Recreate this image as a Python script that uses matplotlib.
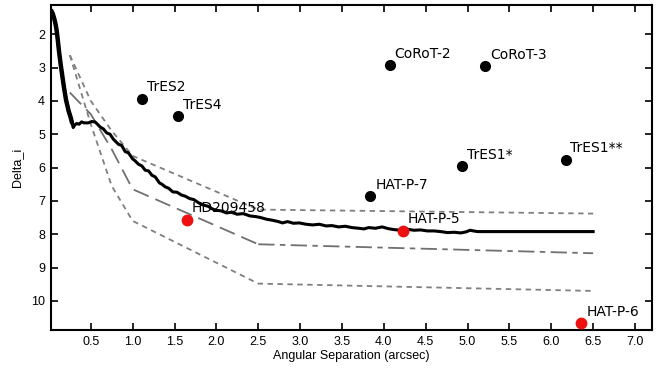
import matplotlib
matplotlib.use("Agg")
import matplotlib.pyplot as plt

# contrast curve (black)
sep_curve = [0.03, 0.045, 0.06, 0.075, 0.09, 0.105, 0.12, 0.14, 0.16, 0.18,
             0.205, 0.235, 0.26, 0.275, 0.29, 0.31, 0.33, 0.36, 0.39, 0.42,
             0.47, 0.51, 0.55, 0.58, 0.61, 0.65, 0.69, 0.73, 0.77, 0.79, 0.83,
             0.87, 0.91, 0.95, 1.0, 1.03, 1.07, 1.11, 1.15, 1.19, 1.23, 1.27,
             1.32, 1.35, 1.39, 1.43, 1.48, 1.53, 1.58, 1.63, 1.68, 1.73, 1.79,
             1.84, 1.9, 1.96, 2.0, 2.06, 2.12, 2.18, 2.25, 2.32, 2.4, 2.47,
             2.53, 2.6, 2.67, 2.74, 2.79, 2.85, 2.92, 2.99, 3.07, 3.15, 3.23,
             3.31, 3.38, 3.46, 3.54, 3.62, 3.7, 3.76, 3.82, 3.9, 3.98, 4.05,
             4.12, 4.2, 4.28, 4.36, 4.44, 4.52, 4.6, 4.68, 4.76, 4.84, 4.92,
             4.98, 5.03, 5.07, 5.12, 5.3, 5.6, 6.0, 6.3, 6.5]
dmag_curve = [1.3, 1.38, 1.5, 1.65, 1.85, 2.15, 2.5, 2.9, 3.25, 3.6,
              3.98, 4.3, 4.5, 4.65, 4.8, 4.72, 4.68, 4.7, 4.63, 4.66,
              4.66, 4.62, 4.63, 4.7, 4.78, 4.84, 4.96, 5.0, 5.15, 5.2, 5.3,
              5.34, 5.52, 5.56, 5.74, 5.8, 5.9, 5.95, 6.08, 6.1, 6.23, 6.28,
              6.46, 6.5, 6.58, 6.62, 6.73, 6.74, 6.82, 6.86, 6.93, 6.96, 7.06,
              7.12, 7.16, 7.25, 7.28, 7.3, 7.36, 7.34, 7.4, 7.38, 7.45, 7.47,
              7.5, 7.55, 7.58, 7.62, 7.66, 7.62, 7.67, 7.66, 7.7, 7.72, 7.7,
              7.75, 7.74, 7.78, 7.76, 7.8, 7.82, 7.84, 7.8, 7.82, 7.78, 7.83,
              7.86, 7.88, 7.85, 7.88, 7.87, 7.9, 7.9, 7.92, 7.95, 7.94, 7.96,
              7.93, 7.88, 7.9, 7.92, 7.92, 7.92, 7.92, 7.92, 7.92]

# model sensitivity curves (grey)
sep_model = [0.25, 0.5, 0.75, 1.0, 2.5, 6.5]
dmag_upper = [2.63, 4.0, 4.9, 5.65, 7.26, 7.38]
dmag_lower = [2.63, 4.7, 6.55, 7.6, 9.48, 9.7]
dmag_mid = [3.75, 4.4, 5.45, 6.65, 8.3, 8.57]

# companions
names_black = ["TrES2", "TrES4", "CoRoT-2", "CoRoT-3", "TrES1*", "TrES1**", "HAT-P-7"]
sep_black = [1.11, 1.54, 4.07, 5.21, 4.93, 6.17, 3.84]
dmag_black = [3.93, 4.46, 2.93, 2.96, 5.96, 5.76, 6.86]

names_red = ["HD209458", "HAT-P-5", "HAT-P-6"]
sep_red = [1.65, 4.23, 6.36]
dmag_red = [7.56, 7.89, 10.67]

fig = plt.figure(figsize=(6.57, 3.72), dpi=100)
ax = fig.add_axes([0.077, 0.113, 0.915, 0.874])

grey = "#7f7f7f"
ax.plot(sep_model, dmag_upper, color=grey, lw=1.3, ls=(0, (3, 2.5)))
ax.plot(sep_model, dmag_lower, color=grey, lw=1.3, ls=(0, (3, 2.5)))
ax.plot(sep_model[:5], dmag_mid[:5], color="#707070", lw=1.3, ls=(0, (9, 4)))
ax.plot(sep_model[4:], dmag_mid[4:], color="#707070", lw=1.3, ls=(0, (9, 3, 3, 3)))

ax.plot(sep_curve, dmag_curve, color="black", lw=2.2, solid_joinstyle="round")
ax.plot(sep_curve[:14], dmag_curve[:14], color="black", lw=3.2, solid_capstyle="round")

ax.plot(sep_black, dmag_black, "o", color="black", ms=7, zorder=5)
ax.plot(sep_red, dmag_red, "o", color="#ee1111", ms=7.5, zorder=5)

for name, x, y in zip(names_black + names_red, sep_black + sep_red, dmag_black + dmag_red):
    ax.annotate(name, (x, y), xytext=(3.5, 3), textcoords="offset points",
                ha="left", va="bottom", fontsize=10, family="DejaVu Sans", zorder=6)

ax.set_xlim(0.02, 7.2)
ax.set_ylim(10.87, 1.12)
ax.set_xticks([0.5, 1.0, 1.5, 2.0, 2.5, 3.0, 3.5, 4.0, 4.5, 5.0, 5.5, 6.0, 6.5, 7.0])
ax.set_yticks([2, 3, 4, 5, 6, 7, 8, 9, 10])
ax.tick_params(direction="in", length=5, width=1.2, top=True, right=True,
               labelsize=9, pad=4)
for lab in ax.get_xticklabels() + ax.get_yticklabels():
    lab.set_family("Liberation Sans")
for sp in ax.spines.values():
    sp.set_linewidth(1.5)

ax.set_xlabel("Angular Separation (arcsec)", fontsize=9, family="Liberation Sans", labelpad=2)
ax.set_ylabel("Delta_i", fontsize=9, family="Liberation Sans", labelpad=6)

fig.savefig("out.png", dpi=100)
